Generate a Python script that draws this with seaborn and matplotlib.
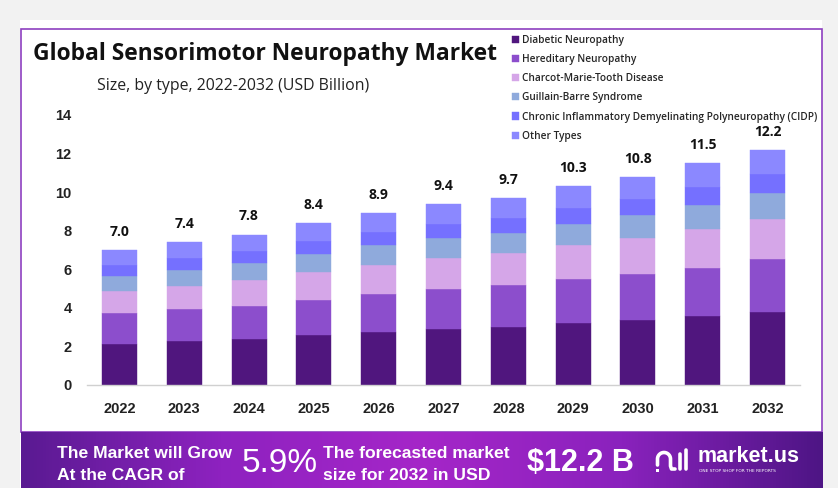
import numpy as np
import pandas as pd
import matplotlib
matplotlib.use("Agg")
import matplotlib.pyplot as plt
import seaborn as sns
from matplotlib.patches import Rectangle
from matplotlib.lines import Line2D
from matplotlib.colors import LinearSegmentedColormap

years = ["2022", "2023", "2024", "2025", "2026", "2027", "2028", "2029", "2030", "2031", "2032"]
totals = [7.0, 7.4, 7.8, 8.4, 8.9, 9.4, 9.7, 10.3, 10.8, 11.5, 12.2]
diabetic = [2.13, 2.28, 2.40, 2.58, 2.75, 2.92, 3.02, 3.20, 3.37, 3.59, 3.80]
hereditary = [1.59, 1.64, 1.71, 1.83, 1.97, 2.07, 2.15, 2.30, 2.38, 2.49, 2.75]
charcot = [1.15, 1.23, 1.33, 1.45, 1.52, 1.59, 1.67, 1.74, 1.87, 1.99, 2.07]
guillain = [0.80, 0.83, 0.88, 0.95, 1.00, 1.02, 1.04, 1.12, 1.19, 1.26, 1.34]
cidp = [0.55, 0.62, 0.63, 0.66, 0.71, 0.76, 0.79, 0.83, 0.85, 0.92, 1.00]
other = [0.78, 0.80, 0.85, 0.93, 0.95, 1.04, 1.03, 1.11, 1.14, 1.25, 1.24]

series_names = ["Diabetic Neuropathy", "Hereditary Neuropathy", "Charcot-Marie-Tooth Disease",
                "Guillain-Barre Syndrome",
                "Chronic Inflammatory Demyelinating Polyneuropathy (CIDP)", "Other Types"]
series_values = [diabetic, hereditary, charcot, guillain, cidp, other]
colors = ["#50167e", "#8c4ecc", "#d5a6e8", "#8faadc", "#7570ff", "#8b88ff"]

sns.set_style("white")
plt.rcParams["font.family"] = ["Open Sans", "DejaVu Sans"]

W, H = 838, 488
fig = plt.figure(figsize=(W / 100, H / 100), dpi=100)
fig.patch.set_facecolor("#f2f2f2")


def fx(px):
    return px / W


def fy(py):
    return 1 - py / H


# white panel and purple border
fig.patches.append(Rectangle((fx(20), fy(488)), fx(802), 468 / H, transform=fig.transFigure,
                             facecolor="white", edgecolor="none", zorder=-10))
fig.patches.append(Rectangle((fx(21), fy(432)), fx(801), 403 / H, transform=fig.transFigure,
                             facecolor="none", edgecolor="#8e3fc0", linewidth=1.2, zorder=-5))

ax = fig.add_axes([fx(87), fy(385), fx(800) - fx(87), (385 - 115) / H])
ax.set_facecolor("none")

df = pd.DataFrame({"year": years})
bottom = np.zeros(len(years))
for name, vals, col in zip(series_names, series_values, colors):
    df["val"] = vals
    sns.barplot(data=df, x="year", y="val", color=col, width=0.54, bottom=bottom,
                label=name, ax=ax, saturation=1, edgecolor=col, linewidth=0.3)
    bottom = bottom + np.array(vals)

ax.set_ylim(0, 14)
ax.set_xlim(-0.5, 10.5)
ax.set_yticks(range(0, 15, 2))
ax.set_xlabel("")
ax.set_ylabel("")
for s in ["top", "right", "left"]:
    ax.spines[s].set_visible(False)
ax.spines["bottom"].set_color("#d0d0d0")
ax.spines["bottom"].set_linewidth(1.0)
ax.tick_params(axis="both", length=0)
ax.tick_params(axis="y", pad=11)
ax.tick_params(axis="x", pad=12)
for lab in ax.get_yticklabels() + ax.get_xticklabels():
    lab.set_fontweight("bold")
    lab.set_fontsize(10.5)
    lab.set_family(["Liberation Sans", "DejaVu Sans"])
    lab.set_color("#222222")

for i, t in enumerate(totals):
    ax.annotate(f"{t:.1f}", (i, t), xytext=(0, 8), textcoords="offset points",
                ha="center", va="bottom", fontsize=10, fontweight="bold", color="#111111")

handles, labels = ax.get_legend_handles_labels()
if ax.get_legend() is not None:
    ax.get_legend().remove()
fig.legend(handles, labels, loc="upper left", bbox_to_anchor=(fx(503), fy(26)),
           frameon=False, handlelength=0.7, handleheight=0.7,
           handletextpad=0.3, labelspacing=0.80, prop={"weight": "semibold", "size": 7.3})

fig.text(fx(33), fy(54), "Global Sensorimotor Neuropathy Market", fontsize=16.4,
         fontweight="bold", va="center", ha="left", color="#111111")
fig.text(fx(97), fy(86), "Size, by type, 2022-2032 (USD Billion)", fontsize=11.4,
         va="center", ha="left", color="#222222")

# footer gradient band
fax = fig.add_axes([fx(21), 0, fx(801), (488 - 432) / H])
cmap = LinearSegmentedColormap.from_list("ft", ["#5a1a92", "#8e22c0", "#a526c8", "#8a22bd", "#4e1585"])
grad = np.linspace(0, 1, 256).reshape(1, -1)
fax.imshow(grad, aspect="auto", cmap=cmap, extent=[0, 1, 0, 1])
fax.set_axis_off()

ff = ["Liberation Sans", "DejaVu Sans"]
fig.text(fx(57), fy(453), "The Market will Grow", fontsize=12.6, fontweight="bold",
         color="white", va="center", family=ff)
fig.text(fx(57), fy(475), "At the CAGR of", fontsize=12.6, fontweight="bold",
         color="white", va="center", family=ff)
fig.text(fx(242), fy(463), "5.9%", fontsize=24, color="white", va="center", family=ff)
fig.text(fx(323), fy(453), "The forecasted market", fontsize=12.6, fontweight="bold",
         color="white", va="center", family=ff)
fig.text(fx(323), fy(475), "size for 2032 in USD", fontsize=12.6, fontweight="bold",
         color="white", va="center", family=ff)
fig.text(fx(527), fy(463), "$12.2 B", fontsize=22, fontweight="bold", color="white",
         va="center", family=ff)
fig.text(fx(697), fy(457), "market.us", fontsize=15.5, fontweight="bold", color="white",
         va="center", family=ff)
fig.text(fx(699), fy(471.5), "ONE STOP SHOP FOR THE REPORTS", fontsize=3.2, color="white",
         va="center", family=["DejaVu Sans"])

# logo icon (decorative)
th = np.linspace(np.pi, 0, 30)
arc_x = 664 + 6.5 * np.cos(th)
arc_y = 459 - 6.5 * np.sin(th)
xs = np.concatenate([[657.5], arc_x, [670.5, 671.5, 675]])
ys = np.concatenate([[465], arc_y, [466, 469, 469]])
for line in [
    Line2D(fx(xs), fy(ys)),
    Line2D([fx(679.5), fx(679.5)], [fy(454), fy(469)]),
    Line2D([fx(686), fx(686)], [fy(450), fy(469)]),
]:
    line.set_transform(fig.transFigure)
    line.set_color("white")
    line.set_linewidth(2.6)
    line.set_solid_capstyle("round")
    fig.lines.append(line)
fig.patches.append(Rectangle((fx(656), fy(471.5)), fx(3), 3 / H, transform=fig.transFigure,
                             facecolor="white", edgecolor="none"))

fig.savefig("out.png", dpi=100, facecolor=fig.get_facecolor())
